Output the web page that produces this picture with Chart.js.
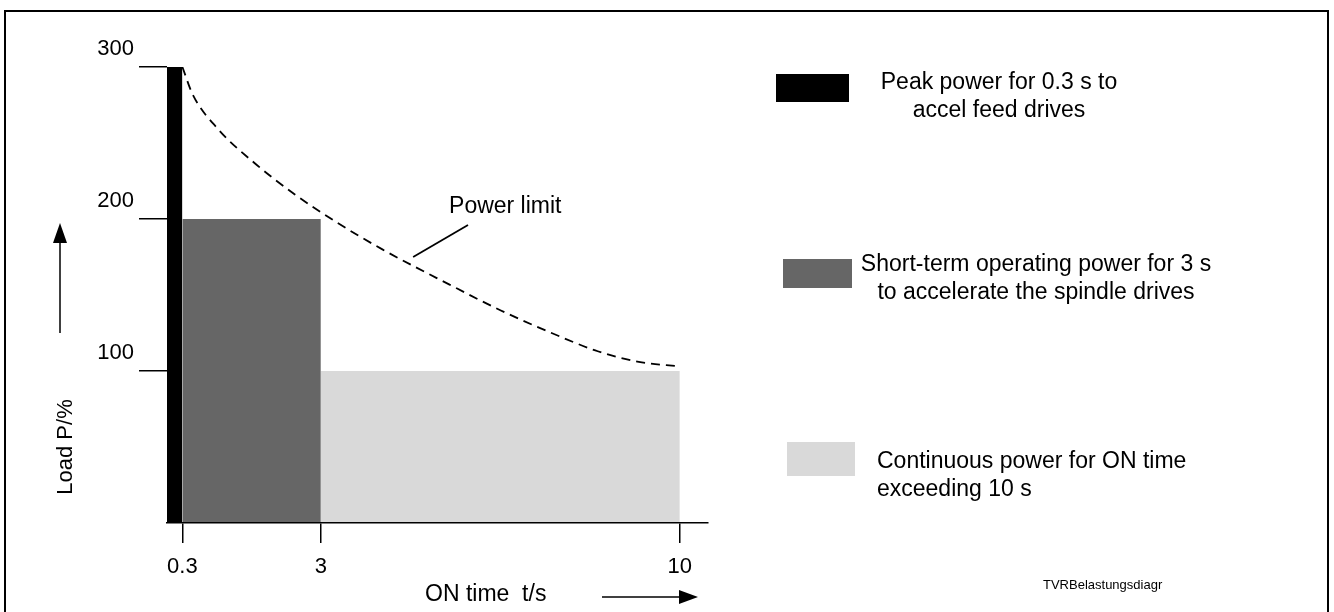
<!DOCTYPE html>
<html lang="en">
<head>
    <meta charset="UTF-8">
    <title>Load diagram</title>
    <script src="https://cdn.jsdelivr.net/npm/chart.js"></script>
    <style>
        html, body { margin: 0; padding: 0; background: #fff; }
        #wrap { width: 1334px; height: 612px; }
    </style>
</head>
<body>
    <div id="wrap"><canvas id="loadChart"></canvas></div>

    <script>
        // blocks: [start s, end s, load %]
        const peakBlock = [0, 0.3, 300];
        const shortBlock = [0.3, 3, 200];
        const contBlock = [3, 10, 100];

        // power limit curve
        const limitTime = [0.3, 0.5, 1, 1.7, 2.5, 3.3, 4.2, 5.5, 6.5, 7.5, 8.4, 9.2, 10];
        const limitLoad = [300, 282, 259, 237, 216, 198, 180, 157, 140, 125, 113, 106, 103];

        // leader line for the "Power limit" label
        const leaderTime = [4.8, 5.87];
        const leaderLoad = [175, 196];

        const xTicks = [0.3, 3, 10];
        const yTicks = [100, 200, 300];

        const FONT = '"Liberation Sans", Arial, sans-serif';

        function block(b, color) {
            return {
                data: [{ x: b[0], y: b[2] }, { x: b[1], y: b[2] }],
                backgroundColor: color,
                borderColor: 'transparent',
                borderWidth: 0,
                pointRadius: 0,
                fill: 'origin',
                order: 2
            };
        }

        function arrowHead(ctx, x, y, dir) {
            ctx.beginPath();
            if (dir === 'up') {
                ctx.moveTo(x, y);
                ctx.lineTo(x - 7, y + 20);
                ctx.lineTo(x + 7, y + 20);
            } else {
                ctx.moveTo(x, y);
                ctx.lineTo(x - 19, y - 7);
                ctx.lineTo(x - 19, y + 7);
            }
            ctx.closePath();
            ctx.fill();
        }

        // frame, axis titles, arrows, legend and labels
        const extras = {
            id: 'extras',
            afterDraw(chart) {
                const ctx = chart.ctx;
                const xs = chart.scales.x, ys = chart.scales.y;
                ctx.save();
                ctx.strokeStyle = '#000';
                ctx.fillStyle = '#000';

                // outer frame
                ctx.lineWidth = 2;
                ctx.strokeRect(5, 11, 1323, 660);

                // y title + arrow
                ctx.save();
                ctx.translate(66, 447);
                ctx.rotate(-Math.PI / 2);
                ctx.font = '22px ' + FONT;
                ctx.textAlign = 'center';
                ctx.textBaseline = 'middle';
                ctx.fillText('Load P/%', 0, 0);
                ctx.restore();
                ctx.lineWidth = 1.5;
                ctx.beginPath();
                ctx.moveTo(60, 333);
                ctx.lineTo(60, 240);
                ctx.stroke();
                arrowHead(ctx, 60, 223, 'up');

                // x title + arrow
                ctx.font = '23px ' + FONT;
                ctx.textAlign = 'left';
                ctx.textBaseline = 'middle';
                ctx.fillText('ON time  t/s', 425, 595);
                ctx.beginPath();
                ctx.moveTo(602, 597);
                ctx.lineTo(682, 597);
                ctx.stroke();
                arrowHead(ctx, 698, 597, 'right');

                // power limit label
                ctx.fillText('Power limit', xs.getPixelForValue(5.5), ys.getPixelForValue(208));

                // legend
                ctx.fillStyle = '#000000';
                ctx.fillRect(776, 74, 73, 28);
                ctx.fillStyle = '#666666';
                ctx.fillRect(783, 259, 69, 29);
                ctx.fillStyle = '#d9d9d9';
                ctx.fillRect(787, 442, 68, 34);

                ctx.fillStyle = '#000';
                ctx.textAlign = 'center';
                ctx.fillText('Peak power for 0.3 s to', 999, 83);
                ctx.fillText('accel feed drives', 999, 111);
                ctx.fillText('Short-term operating power for 3 s', 1036, 265);
                ctx.fillText('to accelerate the spindle drives', 1036, 293);
                ctx.textAlign = 'left';
                ctx.fillText('Continuous power for ON time', 877, 462);
                ctx.fillText('exceeding 10 s', 877, 490);

                ctx.font = '13px ' + FONT;
                ctx.fillText('TVRBelastungsdiagr', 1043, 585);
                ctx.restore();
            }
        };

        const ctx = document.getElementById('loadChart').getContext('2d');
        new Chart(ctx, {
            type: 'line',
            data: {
                datasets: [
                    {
                        data: limitTime.map((t, i) => ({ x: t, y: limitLoad[i] })),
                        borderColor: '#000',
                        borderWidth: 1.8,
                        borderDash: [9, 6],
                        pointRadius: 0,
                        fill: false,
                        cubicInterpolationMode: 'monotone',
                        order: 0
                    },
                    {
                        data: leaderTime.map((t, i) => ({ x: t, y: leaderLoad[i] })),
                        borderColor: '#000',
                        borderWidth: 1.8,
                        pointRadius: 0,
                        fill: false,
                        order: 0
                    },
                    block(peakBlock, '#000000'),
                    block(shortBlock, '#666666'),
                    block(contBlock, '#d9d9d9')
                ]
            },
            options: {
                responsive: true,
                maintainAspectRatio: false,
                animation: false,
                events: [],
                layout: { padding: { top: 67, right: 626, left: 0, bottom: 0 } },
                plugins: {
                    legend: { display: false },
                    tooltip: { enabled: false }
                },
                scales: {
                    x: {
                        type: 'linear',
                        min: 0,
                        max: 10.55,
                        afterBuildTicks: axis => { axis.ticks = xTicks.map(v => ({ value: v })); },
                        afterFit: axis => { axis.height = 89; },
                        grid: { drawOnChartArea: false, tickLength: 20, color: '#000', lineWidth: 1.5 },
                        border: { display: true, color: '#000', width: 1.5, z: 1 },
                        ticks: {
                            color: '#000',
                            font: { family: FONT, size: 22 },
                            padding: 11,
                            maxRotation: 0,
                            callback: v => String(v)
                        }
                    },
                    y: {
                        type: 'linear',
                        min: 0,
                        max: 300,
                        afterBuildTicks: axis => { axis.ticks = yTicks.map(v => ({ value: v })); },
                        afterFit: axis => { axis.width = 167; },
                        grid: { drawOnChartArea: false, tickLength: 28, color: '#000', lineWidth: 1.5 },
                        border: { display: false },
                        ticks: {
                            color: '#000',
                            font: { family: FONT, size: 22 },
                            padding: 5,
                            labelOffset: -18,
                            callback: v => String(v)
                        }
                    }
                }
            },
            plugins: [extras]
        });
    </script>
</body>
</html>
